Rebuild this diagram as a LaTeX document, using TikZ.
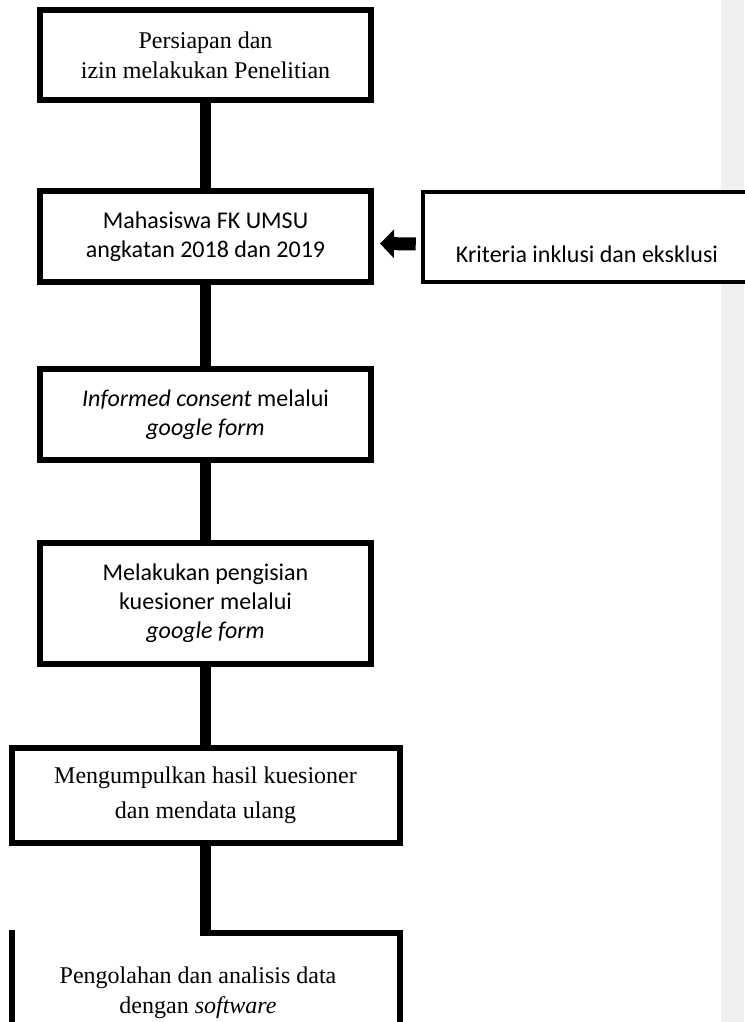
\documentclass[tikz,border=0pt]{standalone}
\usepackage{fontspec}
\setmainfont{Liberation Serif}
\newfontfamily\carlito{Carlito}
\usetikzlibrary{arrows.meta}
\definecolor{panelgray}{RGB}{240,240,240}

\begin{document}
\begin{tikzpicture}[x=1pt,y=-1pt,
        box/.style={draw,line width=6pt,fill=white,align=center,inner sep=0pt,minimum width=331pt,minimum height=91pt},
        serif/.style={font=\fontsize{24}{30}\selectfont},
        sans/.style={font=\carlito\fontsize{24}{29}\selectfont},
        link/.style={line width=11pt}]
        \useasboundingbox (0,0) rectangle (744,1022);
        \fill[panelgray] (721,0) rectangle (744,1022);
        \node[box,serif,minimum height=90pt] (persiapan) at (205.5,55) {Persiapan dan\\ izin melakukan Penelitian};
        \node[box,sans] (mahasiswa) at (205.5,236.5) {Mahasiswa FK UMSU\\angkatan 2018 dan 2019};
        \node[box,sans] (consent) at (205.5,414.5) {\textit{Informed consent} melalui\\\textit{google form}};
        \node[box,sans,minimum height=121pt] (pengisian) at (205.5,603.5) {Melakukan pengisian\\kuesioner melalui\\\textit{google form}};
        \node[box,font=\fontsize{24}{35}\selectfont,minimum width=388pt,minimum height=95pt] (kumpul) at (205.5,795.5) {Mengumpulkan hasil kuesioner\\dan mendata ulang};
        \node[draw,line width=4.5pt,fill=white,inner sep=0pt,minimum width=347pt,minimum height=90pt] (kriteria) at (596.5,237) {};
        \node[sans] (kriteriateks) at (587,254) {Kriteria inklusi dan eksklusi};
        \coordinate (olahtop) at (205.5,936);
        \draw[line width=6pt] (12,930) -- (12,1040);
        \draw[line width=6pt] (200,933) -- (400,933) -- (400,1040);
        \node[serif,align=center] (olah) at (198,993) {Pengolahan dan analisis data\\dengan \textit{software}};
        \draw[link] (persiapan) -- (mahasiswa);
        \draw[link] (mahasiswa) -- (consent);
        \draw[link] (consent) -- (pengisian);
        \draw[link] (pengisian) -- (kumpul);
        \draw[link] (kumpul) -- (olahtop);
        \draw[line width=13pt,-{Triangle[length=14pt,width=28pt]},shorten <=5pt,shorten >=6pt]
            ([yshift=-7pt]kriteria.west) -- ([yshift=-7pt]mahasiswa.east);
    \end{tikzpicture}
\end{document}
